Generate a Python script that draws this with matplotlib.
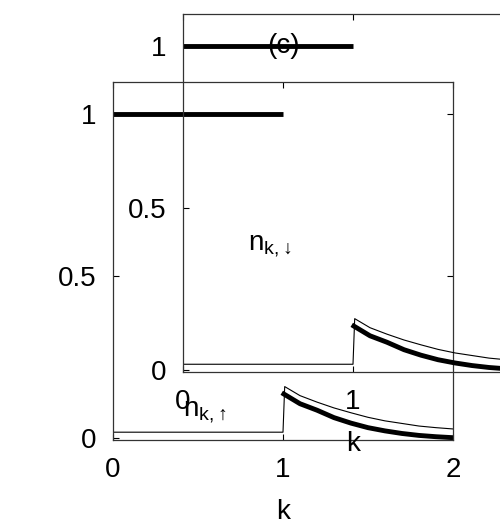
import matplotlib
matplotlib.use('Agg')
import matplotlib.pyplot as plt

plt.rcParams['font.family'] = ['Liberation Sans', 'DejaVu Sans']
plt.rcParams['mathtext.fontset'] = 'custom'
plt.rcParams['mathtext.rm'] = 'Liberation Sans'
plt.rcParams['mathtext.it'] = 'Liberation Sans'

# occupied region (k < 1)
k_low = [0.0, 1.0]
n_low_thick = [1.0, 1.0]
n_low_thin = [0.017, 0.017]

# tail (k > 1)
k_tail = [1.0, 1.1, 1.2, 1.3, 1.4, 1.5, 1.6, 1.7, 1.8, 1.9, 2.0]
n_tail_thick = [0.135, 0.105, 0.085, 0.062, 0.045, 0.031, 0.021, 0.013, 0.007, 0.003, 0.0]
n_tail_thin = [0.158, 0.130, 0.110, 0.092, 0.077, 0.063, 0.052, 0.044, 0.036, 0.031, 0.027]

xticks = [0, 1, 2]
yticks = [0, 0.5, 1]
yticklabels = ['0', '0.5', '1']

fig = plt.figure(figsize=(5, 5.25), dpi=100)
fig.patch.set_facecolor('white')


def draw_panel(ax):
    ax.patch.set_alpha(0)
    ax.plot(k_low, n_low_thick, color='black', linewidth=3.5, solid_capstyle='butt')
    ax.plot(k_low + [1.01] + k_tail[1:], n_low_thin + [n_tail_thin[0]] + n_tail_thin[1:],
            color='black', linewidth=0.8)
    ax.plot([1.005] + k_tail[1:], n_tail_thick, color='black', linewidth=3.5)
    ax.set_xlim(0, 2)
    ax.set_ylim(-0.007, 1.1)
    ax.set_xticks(xticks)
    ax.set_yticks(yticks)
    ax.set_yticklabels(yticklabels)
    ax.tick_params(direction='in', top=True, right=True, length=4, width=0.8,
                   labelsize=20)
    ax.tick_params(axis='x', pad=12)
    ax.tick_params(axis='y', pad=12)
    for s in ax.spines.values():
        s.set_linewidth(0.9)
        s.set_color('#333333')
    ax.set_xlabel('k', fontsize=20, labelpad=12)


# back panel
ax1 = fig.add_axes([0.226, 0.162, 0.68, 0.682])
draw_panel(ax1)
ax1.text(0.54, 0.08, r'$\mathregular{n_{k,↑}}$', fontsize=20, ha='center', va='center')

# front panel, shifted up and right
ax2 = fig.add_axes([0.366, 0.2914, 0.68, 0.682])
draw_panel(ax2)
ax2.text(0.51, 0.384, r'$\mathregular{n_{k,↓}}$', fontsize=20, ha='center', va='center')
ax2.text(0.59, 1.0, '(c)', fontsize=20, ha='center', va='center')

fig.savefig('out.png', dpi=100)
